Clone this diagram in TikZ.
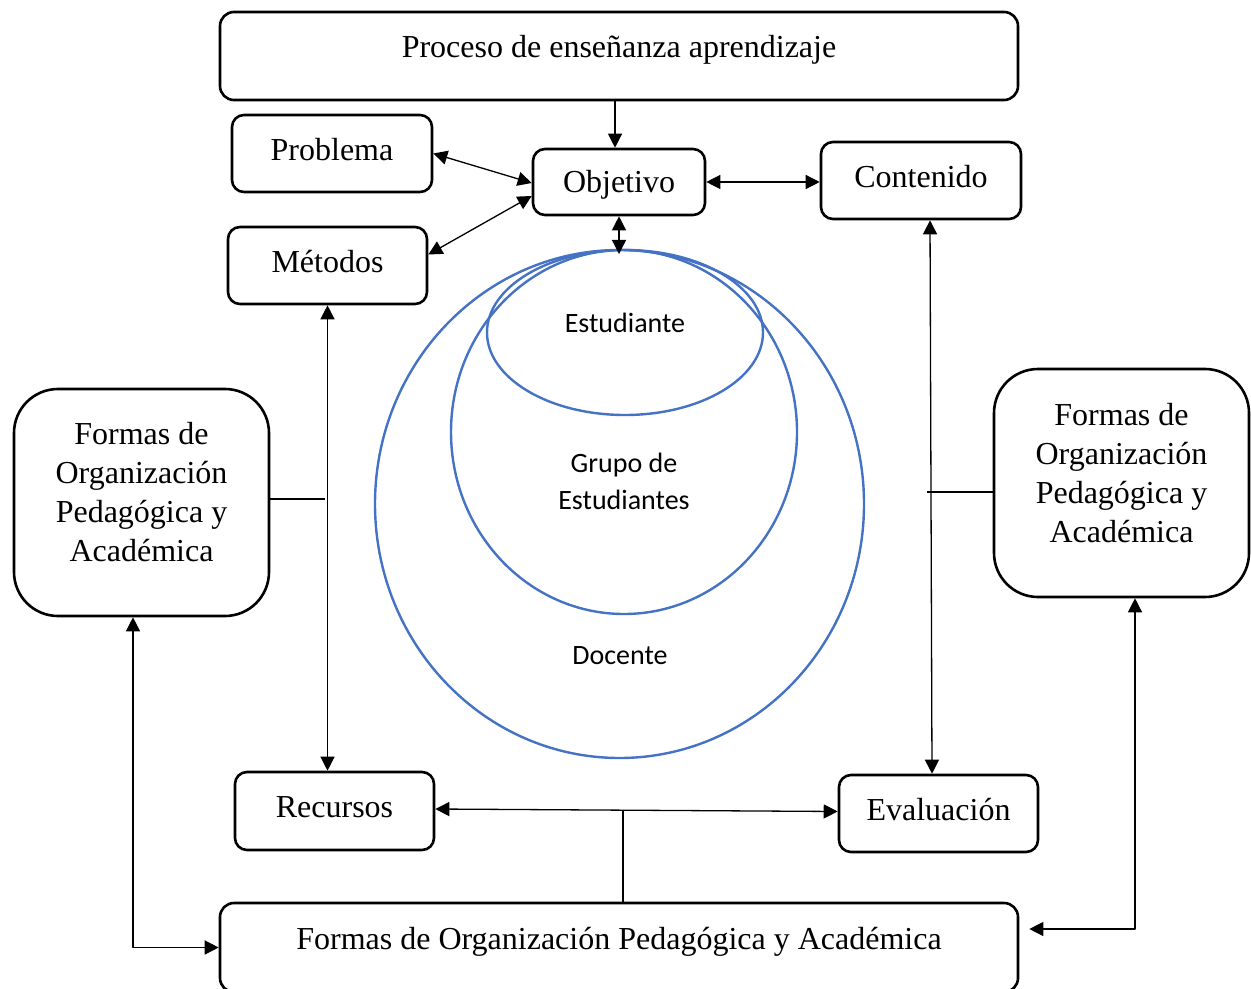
\documentclass[tikz,border=0pt]{standalone}
\usepackage{fontspec}
\setmainfont{Liberation Serif}
\newfontfamily\circfont{Carlito}
\usepackage{xcolor}
\usetikzlibrary{arrows.meta}
\definecolor{ringblue}{HTML}{4472C4}

\begin{document}
\begin{tikzpicture}[x=0.5pt,y=-0.5pt,>={Triangle[length=7pt,width=7pt]},line join=round,
  box/.style={draw,line width=1.3pt,rounded corners=6pt,inner sep=0pt},
  bigbox/.style={box,rounded corners=22pt},
  lbl/.style={font=\fontsize{16}{19.5}\selectfont,align=center},
  ring/.style={draw=ringblue,line width=1.2pt},
  rtxt/.style={font=\circfont\fontsize{14}{18.5}\selectfont,align=center},
  link/.style={line width=0.65pt}]
  \useasboundingbox (0,0) rectangle (1251,989);
  % boxes
  \node[box,rounded corners=7pt,minimum width=399pt,minimum height=44pt,
    label={[lbl,name=proc-t,yshift=3pt]center:Proceso de enseñanza aprendizaje}] (proc) at (619,56) {};
  \node[box,minimum width=100pt,minimum height=38.5pt,
    label={[lbl,name=prob-t,yshift=2pt]center:Problema}] (prob) at (332,153.5) {};
  \node[box,minimum width=86pt,minimum height=33pt,
    label={[lbl,name=obj-t,yshift=-1.5pt]center:Objetivo}] (obj) at (619,182) {};
  \node[box,minimum width=100pt,minimum height=38.5pt,
    label={[lbl,name=cont-t,yshift=2pt]center:Contenido}] (cont) at (921,180.5) {};
  \node[box,minimum width=99.5pt,minimum height=38.5pt,
    label={[lbl,name=met-t,yshift=2pt]center:Métodos}] (met) at (327.5,265.5) {};
  \node[bigbox,minimum width=127.5pt,minimum height=113.5pt,
    label={[lbl,name=fl-t,yshift=5pt]center:Formas de\\Organización\\Pedagógica y\\Académica}] (fl) at (141.5,502.5) {};
  \node[bigbox,minimum width=127.5pt,minimum height=114pt,
    label={[lbl,name=fr-t,yshift=5pt]center:Formas de\\Organización\\Pedagógica y\\Académica}] (fr) at (1121.5,483) {};
  \node[box,minimum width=99.5pt,minimum height=39pt,
    label={[lbl,name=rec-t,yshift=2pt]center:Recursos}] (rec) at (334.5,811) {};
  \node[box,minimum width=99.5pt,minimum height=38.5pt,
    label={[lbl,name=eval-t,yshift=2pt]center:Evaluación}] (eval) at (938.5,813.5) {};
  \node[box,rounded corners=7pt,minimum width=399pt,minimum height=44.5pt,
    label={[lbl,name=bot-t,yshift=3pt]center:Formas de Organización Pedagógica y Académica}] (bot) at (619,947.5) {};
  % circles
  \draw[ring] (619.5,504) ellipse [x radius=244.5,y radius=254];
  \draw[ring] (624,432) ellipse [x radius=173,y radius=182];
  \draw[ring] (625,332.5) ellipse [x radius=138,y radius=82.5];
  \node[rtxt] (est) at (625,323) {Estudiante};
  \node[rtxt] (grupo) at (624,481) {Grupo de\\Estudiantes};
  \node[rtxt] (doc) at (620,656) {Docente};
  \coordinate (ringtop) at (619,254);
  \coordinate (jl) at (325,499);
  \coordinate (jr) at (927,492);
  % links
  \draw[link,->] ([xshift=-2pt]proc.south) -- ([xshift=-2pt]obj.north);
  \draw[link,<->] (prob.east) -- ([yshift=-0.5pt]obj.west);
  \draw[link,<->] ([yshift=5.5pt]met.east) -- ([yshift=-7pt]obj.west);
  \draw[link,<->] (obj.east) -- (obj.east -| cont.west);
  \draw[link,<->] (obj.south) -- (ringtop);
  \draw[link,<->] (met.south) -- (met.south |- rec.north);
  \draw[link,<->] ([xshift=4.5pt]cont.south) -- ([xshift=-3.25pt]eval.north);
  \draw[link] ([yshift=1.75pt]fl.east) -- (jl);
  \draw[link] ([yshift=-4.5pt]fr.west) -- (jr);
  \draw[link,<->] ([yshift=1pt]rec.east) -- ([yshift=1pt]eval.west);
  \draw[link] ([xshift=2pt]bot.north) -- ([xshift=2pt]bot.north |- rec.east);
  \draw[link,<->] ([xshift=-4.25pt]fl.south) |- (bot.west);
  \draw[link,<->] ([xshift=6.75pt]fr.south) |- ([xshift=5pt,yshift=9.25pt]bot.east);
\end{tikzpicture}
\end{document}
